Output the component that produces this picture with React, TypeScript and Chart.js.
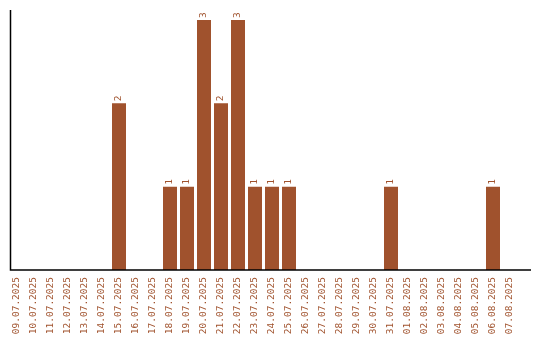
import React, { useEffect, useRef } from "react";
import { Chart, registerables } from "chart.js";

Chart.register(...registerables);

const dates = [
  "09.07.2025", "10.07.2025", "11.07.2025", "12.07.2025", "13.07.2025", "14.07.2025",
  "15.07.2025", "16.07.2025", "17.07.2025", "18.07.2025", "19.07.2025", "20.07.2025",
  "21.07.2025", "22.07.2025", "23.07.2025", "24.07.2025", "25.07.2025", "26.07.2025",
  "27.07.2025", "28.07.2025", "29.07.2025", "30.07.2025", "31.07.2025", "01.08.2025",
  "02.08.2025", "03.08.2025", "04.08.2025", "05.08.2025", "06.08.2025", "07.08.2025",
];
const counts = [
  0, 0, 0, 0, 0, 0,
  2, 0, 0, 1, 1, 3,
  2, 3, 1, 1, 1, 0,
  0, 0, 0, 0, 1, 0,
  0, 0, 0, 0, 1, 0,
];

const COLOR = "#A0522D";
const FONT = "'DejaVu Sans Mono', monospace";

const decorPlugin = {
  id: "decor",
  afterDatasetsDraw(chart: any) {
    const ctx = chart.ctx;
    const meta = chart.getDatasetMeta(0);
    ctx.save();
    ctx.fillStyle = COLOR;
    ctx.font = `9.5px ${FONT}`;
    ctx.textAlign = "left";
    ctx.textBaseline = "middle";
    meta.data.forEach((bar: any, i: number) => {
      const v = counts[i];
      if (!v) return;
      ctx.save();
      ctx.translate(bar.x, bar.y - 2);
      ctx.rotate(-Math.PI / 2);
      ctx.fillText(String(v), 0, 0);
      ctx.restore();
    });
    const bottom = chart.chartArea.bottom;
    ctx.strokeStyle = "#000";
    ctx.lineWidth = 1.5;
    ctx.beginPath();
    ctx.moveTo(10.5, 10);
    ctx.lineTo(10.5, bottom);
    ctx.lineTo(531, bottom);
    ctx.stroke();
    ctx.restore();
  },
};

export default function App() {
  const ref = useRef<HTMLCanvasElement>(null);
  useEffect(() => {
    document.body.style.margin = "0";
    const chart = new Chart(ref.current!, {
      type: "bar",
      data: {
        labels: dates,
        datasets: [
          {
            data: counts,
            backgroundColor: COLOR,
            borderWidth: 0,
            categoryPercentage: 1,
            barPercentage: 14 / 17,
          },
        ],
      },
      options: {
        animation: false,
        responsive: false,
        maintainAspectRatio: false,
        layout: { padding: { left: 8.5, right: 21.5, top: 20, bottom: 0 } },
        plugins: { legend: { display: false }, tooltip: { enabled: false } },
        scales: {
          x: {
            grid: { display: false, drawTicks: false },
            border: { display: false },
            ticks: {
              color: COLOR,
              font: { family: FONT, size: 9.5 },
              minRotation: 90,
              maxRotation: 90,
              autoSkip: false,
              padding: 7,
            },
            afterFit(scale: any) {
              scale.height = 70;
            },
          },
          y: {
            display: false,
            min: 0,
            max: 3,
          },
        },
      },
      plugins: [decorPlugin],
    });
    return () => chart.destroy();
  }, []);
  return <canvas ref={ref} width={540} height={340} style={{ display: "block" }} />;
}
